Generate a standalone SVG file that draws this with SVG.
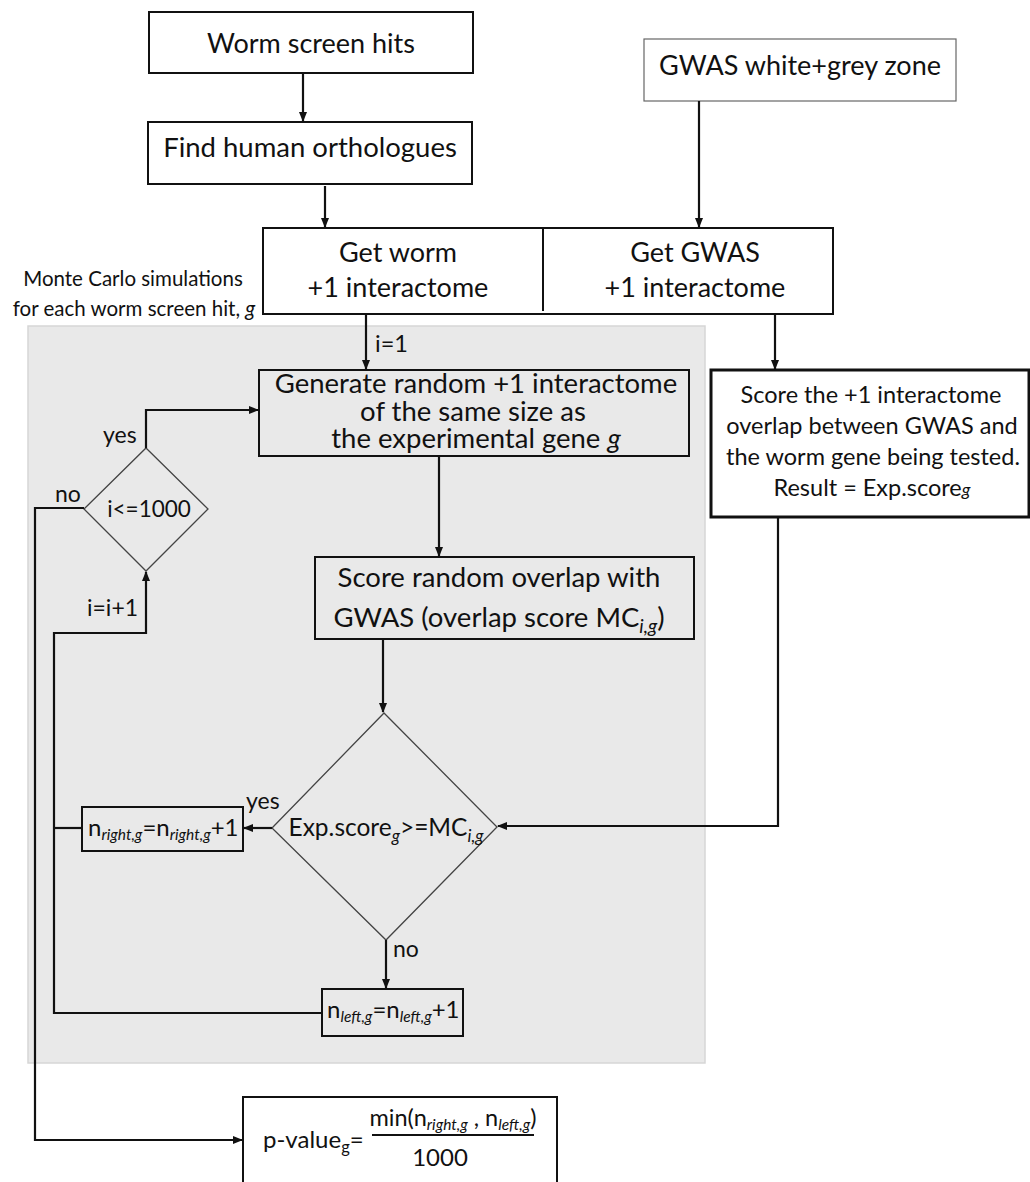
<svg xmlns="http://www.w3.org/2000/svg" width="1030" height="1182" viewBox="0 0 1030 1182">
<style>
text{font-family:Lato,"Liberation Sans",sans-serif;fill:#111;}
.box{fill:#fff;stroke:#111;stroke-width:2;}
.gbox{fill:#e9e9e9;stroke:#111;stroke-width:2;}
.dia{fill:#e9e9e9;stroke:#444;stroke-width:1.3;}
.ln{fill:none;stroke:#111;stroke-width:2.2;}
.c{text-anchor:middle;}
.sub{font-style:italic;}
</style>
<defs>
<marker id="ah" markerUnits="userSpaceOnUse" markerWidth="10" markerHeight="8" refX="9" refY="4" orient="auto">
<path d="M0,0 L10,4 L0,8 z" fill="#111"/>
</marker>
</defs>
<rect x="0" y="0" width="1030" height="1182" fill="#fff"/>
<g id="mc-region">
<rect x="28" y="326" width="677" height="737" fill="#e9e9e9" stroke="#d6d6d6" stroke-width="1.5"/>
</g>
<g id="mc-label">
<text x="133" y="286" font-size="20.5" class="c">Monte Carlo simulations</text>
<text x="134" y="316" font-size="20.5" class="c">for each worm screen hit, <tspan font-style="italic">g</tspan></text>
</g>
<g id="worm-hits"><rect class="box" x="149" y="12" width="324" height="61"/><text x="311" y="53" font-size="27" class="c">Worm screen hits</text></g>
<g id="orthologues"><rect class="box" x="148" y="122" width="324" height="62"/><text x="310" y="157" font-size="27.5" class="c">Find human orthologues</text></g>
<g id="gwas-zone"><rect x="644" y="39" width="312" height="62" fill="#fff" stroke="#666" stroke-width="1.2"/><text x="800" y="75" font-size="27" class="c">GWAS white+grey zone</text></g>
<g id="interactomes">
<rect class="box" x="263" y="228" width="570" height="86"/>
<line x1="543" y1="228" x2="543" y2="311" stroke="#111" stroke-width="2"/>
<text x="398" y="262" font-size="27" class="c">Get worm</text>
<text x="398" y="297" font-size="27" class="c">+1 interactome</text>
<text x="695" y="262" font-size="27" class="c">Get GWAS</text>
<text x="695" y="297" font-size="27" class="c">+1 interactome</text>
</g>
<g id="generate"><rect class="gbox" x="259" y="370" width="430" height="86"/>
<text x="476" y="393" font-size="27.5" class="c">Generate random +1 interactome</text>
<text x="473" y="421" font-size="27.5" class="c">of the same size as</text>
<text x="476" y="448" font-size="27.5" class="c">the experimental gene <tspan font-style="italic">g</tspan></text>
</g>
<g id="score-random"><rect class="gbox" x="315" y="557" width="379" height="82"/>
<text x="499" y="587" font-size="27.5" class="c">Score random overlap with</text>
<text x="499" y="627" font-size="27.5" class="c">GWAS (overlap score MC<tspan class="sub" font-size="19" dy="6">i,g</tspan><tspan dy="-6">)</tspan></text>
</g>
<g id="score-exp"><rect x="711" y="370" width="318" height="147" fill="#fff" stroke="#111" stroke-width="3"/>
<text x="871" y="403" font-size="23.5" class="c">Score the +1 interactome</text>
<text x="872" y="434" font-size="23.5" class="c">overlap between GWAS and</text>
<text x="873" y="465" font-size="23.5" class="c">the worm gene being tested.</text>
<text x="872" y="496" font-size="23.5" class="c">Result = Exp.score<tspan class="sub" font-size="18">g</tspan></text>
</g>
<g id="loop-check"><path class="dia" d="M146,448 L208,509 L146,571 L84,509 Z"/>
<text x="149" y="517" font-size="22.5" class="c">i&lt;=1000</text></g>
<g id="compare"><path class="dia" d="M384,713 L497,827 L386,940 L272,828 Z"/>
<text x="386" y="836" font-size="24.5" class="c">Exp.score<tspan class="sub" font-size="17" dy="6">g</tspan><tspan dy="-6">&gt;=MC</tspan><tspan class="sub" font-size="17" dy="6">i,g</tspan></text></g>
<g id="n-right"><rect class="gbox" x="82" y="807" width="161" height="44"/>
<text x="88" y="836" font-size="24">n<tspan class="sub" font-size="15.5" dy="4">right,g</tspan><tspan dy="-4">=n</tspan><tspan class="sub" font-size="15.5" dy="4">right,g</tspan><tspan dy="-4">+1</tspan></text></g>
<g id="n-left"><rect class="gbox" x="322" y="989" width="141" height="47"/>
<text x="327" y="1018" font-size="24">n<tspan class="sub" font-size="15.5" dy="4">left,g</tspan><tspan dy="-4">=n</tspan><tspan class="sub" font-size="15.5" dy="4">left,g</tspan><tspan dy="-4">+1</tspan></text></g>
<g id="p-value"><rect class="box" x="243" y="1097" width="314" height="95"/>
<text x="263" y="1148" font-size="24">p-value<tspan font-size="16.5" dy="5">g</tspan><tspan dy="-5">=</tspan></text>
<text x="453" y="1126" font-size="23.5" class="c">min(n<tspan class="sub" font-size="15.5" dy="4">right,g</tspan><tspan dy="-4"> , n</tspan><tspan class="sub" font-size="15.5" dy="4">left,g</tspan><tspan dy="-4">)</tspan></text>
<line x1="372" y1="1135" x2="534" y2="1135" stroke="#111" stroke-width="2"/>
<text x="440" y="1166" font-size="24" class="c">1000</text>
</g>
<g id="connectors">
<line class="ln" x1="303" y1="73" x2="303" y2="121" marker-end="url(#ah)"/>
<line class="ln" x1="325" y1="186" x2="325" y2="227" marker-end="url(#ah)"/>
<line class="ln" x1="699" y1="101" x2="699" y2="227" marker-end="url(#ah)"/>
<line class="ln" x1="366" y1="314" x2="366" y2="369" marker-end="url(#ah)"/>
<line class="ln" x1="775" y1="314" x2="775" y2="369" marker-end="url(#ah)"/>
<line class="ln" x1="439" y1="456" x2="439" y2="556" marker-end="url(#ah)"/>
<line class="ln" x1="383" y1="639" x2="383" y2="712" marker-end="url(#ah)"/>
<polyline class="ln" points="146,448 146,410 258,410" marker-end="url(#ah)"/>
<polyline class="ln" points="84,508 35,508 35,1140 242,1140" marker-end="url(#ah)"/>
<polyline class="ln" points="322,1013 54,1013 54,633 146,633 146,572" marker-end="url(#ah)"/>
<line class="ln" x1="54" y1="828" x2="82" y2="828"/>
<line class="ln" x1="272" y1="828" x2="244" y2="828" marker-end="url(#ah)"/>
<polyline class="ln" points="778,517 778,826 498,826" marker-end="url(#ah)"/>
<line class="ln" x1="386" y1="940" x2="386" y2="988" marker-end="url(#ah)"/>
<text x="375" y="352" font-size="23.5">i=1</text>
<text x="103" y="443" font-size="23">yes</text>
<text x="55" y="502" font-size="23">no</text>
<text x="87" y="616" font-size="23">i=i+1</text>
<text x="246" y="809" font-size="23">yes</text>
<text x="393" y="957" font-size="23">no</text>
</g>
</svg>
